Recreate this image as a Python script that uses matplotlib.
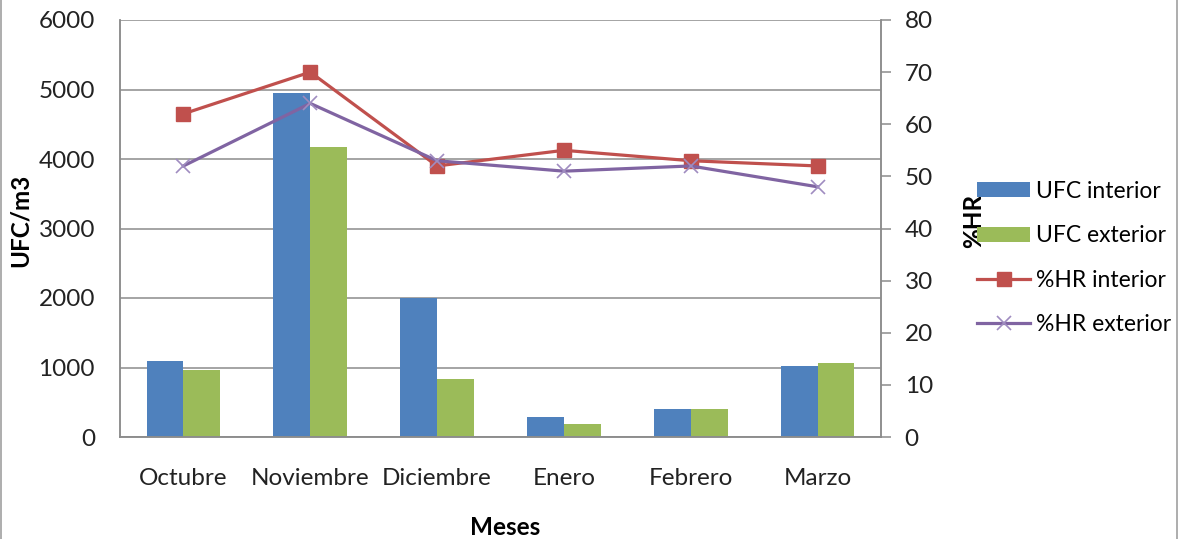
import numpy as np
import matplotlib
matplotlib.use("Agg")
import matplotlib.pyplot as plt
from matplotlib.lines import Line2D

plt.rcParams['font.family'] = ['Lato', 'DejaVu Sans']

# --- Data ---
meses = ['Octubre', 'Noviembre', 'Diciembre', 'Enero', 'Febrero', 'Marzo']
ufc_interior = [1100, 4950, 2000, 290, 400, 1020]
ufc_exterior = [970, 4170, 835, 180, 400, 1060]
hr_interior = [62, 70, 52, 55, 53, 52]
hr_exterior = [52, 64, 53, 51, 52, 48]

# --- Colors ---
BLUE = '#4F81BD'
GREEN = '#9BBB59'
RED = '#C0504D'
PURPLE = '#8064A2'
GRID = '#8C8C8C'
FS = 17.5

fig = plt.figure(figsize=(11.82, 5.39), dpi=100)
ax = fig.add_axes([120 / 1182, 102 / 539, 761 / 1182, 417 / 539])
ax2 = ax.twinx()

x = np.arange(len(meses))
w = 0.29
ax.bar(x - w / 2, ufc_interior, w, color=BLUE, label='UFC interior', zorder=2)
ax.bar(x + w / 2, ufc_exterior, w, color=GREEN, label='UFC exterior', zorder=2)

ax2.plot(x, hr_interior, color=RED, lw=2.3, marker='s', ms=10,
         label='%HR interior')
ax2.plot(x, hr_exterior, color=PURPLE, lw=2.3, marker='x', ms=10, mew=1.2,
         mec='#9F8CC0', label='%HR exterior')

ax.set_xlim(-0.5, len(meses) - 0.5)
ax.set_ylim(0, 6000)
ax.set_yticks(range(0, 6001, 1000))
ax2.set_ylim(0, 80)
ax2.set_yticks(range(0, 81, 10))

ax.grid(axis='y', color=GRID, lw=1.1, zorder=0)
ax.set_axisbelow(True)
for a in (ax, ax2):
    for s in a.spines.values():
        s.set_color(GRID)
        s.set_linewidth(1.1)
ax.spines['top'].set_visible(False)
ax2.spines['top'].set_visible(False)

ax.set_xticks(x)
ax.set_xticklabels(meses)
ax.tick_params(axis='x', length=0, pad=22, labelsize=FS, colors='#222222')
ax.tick_params(axis='y', length=0, pad=18, labelsize=FS, colors='#222222')
ax2.tick_params(axis='y', length=7, width=1.1, color=GRID, pad=10,
                labelsize=FS, labelcolor='#222222')

ax.set_ylabel('UFC/m3', fontsize=FS, fontweight='bold')
ax.yaxis.set_label_coords(-0.116, 0.52)
ax.set_xlabel('Meses', fontsize=FS, fontweight='bold')
ax.xaxis.set_label_coords(0.506, -0.19)
ax2.set_ylabel('%HR', fontsize=FS, fontweight='bold', rotation=90)
ax2.yaxis.set_label_coords(1.106, 0.518)

h1, l1 = ax.get_legend_handles_labels()
h2, l2 = ax2.get_legend_handles_labels()
fig.legend(h1 + h2, l1 + l2, loc='center left',
           bbox_to_anchor=(956 / 1182, (539 - 258) / 539),
           frameon=False, fontsize=16.5, handlelength=2.35,
           handleheight=0.62, handletextpad=0.25, labelspacing=1.02)

# outer chart border
fig.add_artist(Line2D([1.5 / 1182, 1.5 / 1182], [0, 1], color='#A0A0A0', lw=1.2))
fig.add_artist(Line2D([1177 / 1182, 1177 / 1182], [0, 1], color='#A0A0A0', lw=1.2))

fig.savefig('out.png', dpi=100)
